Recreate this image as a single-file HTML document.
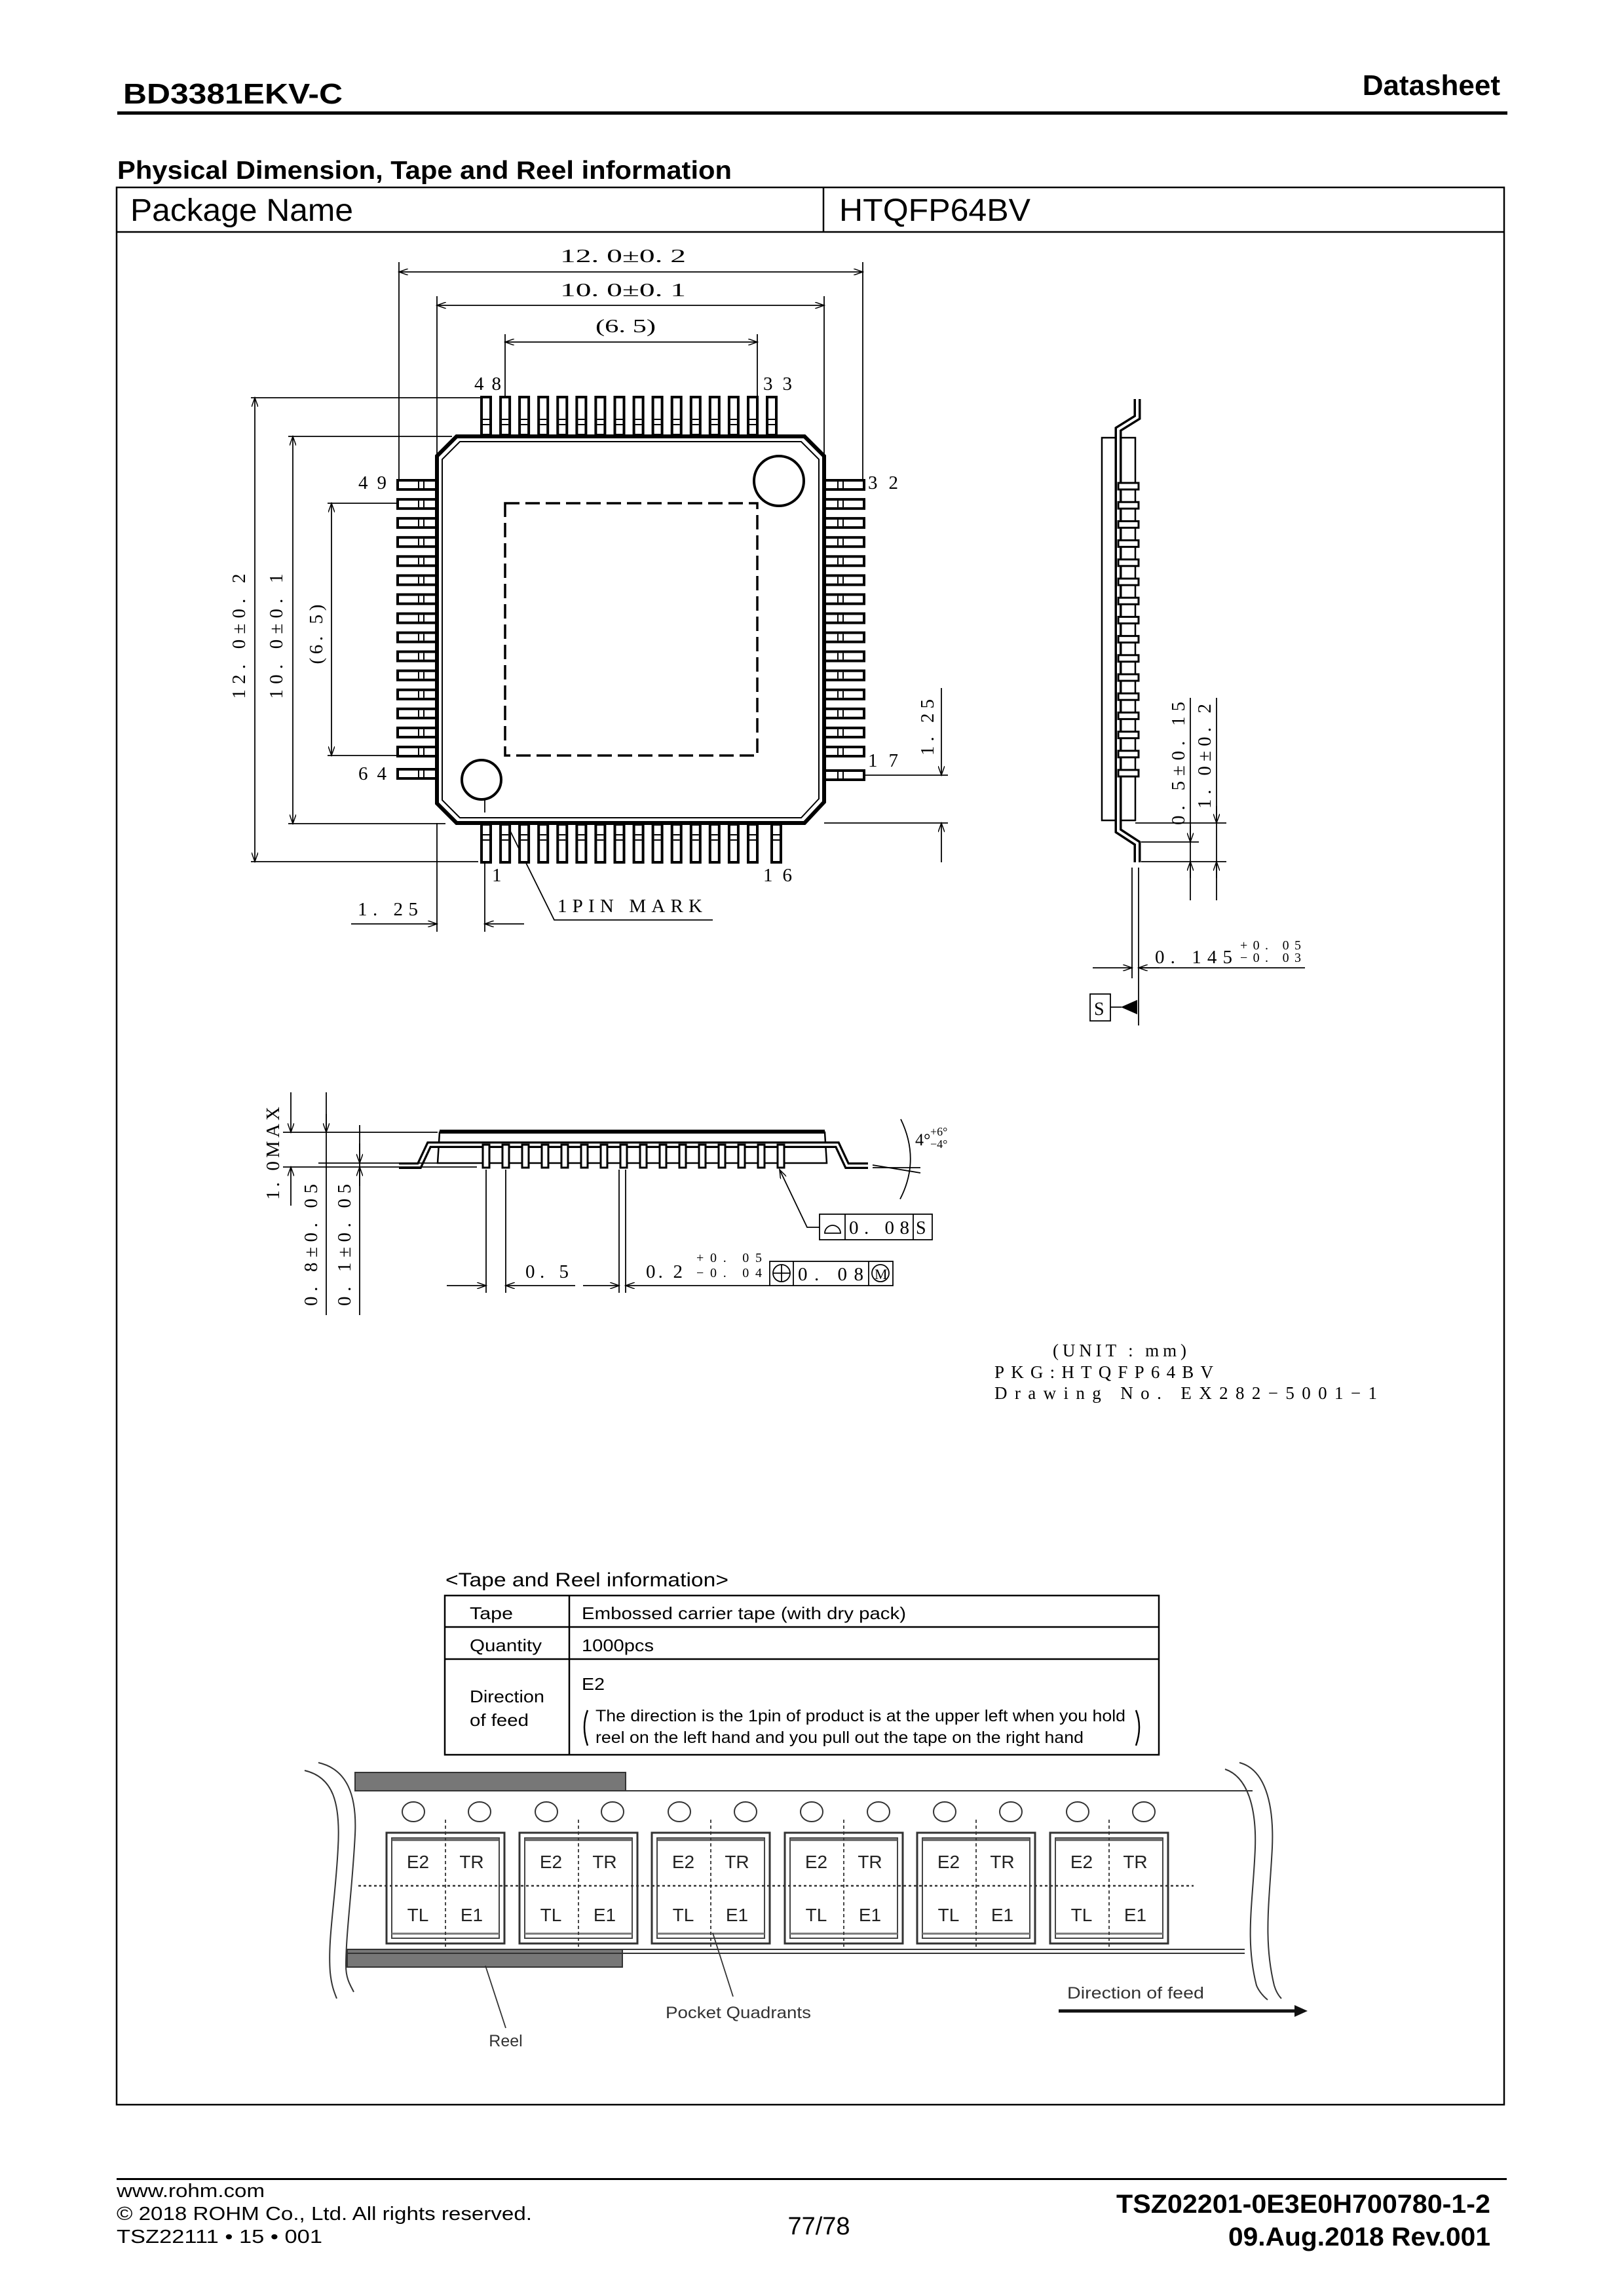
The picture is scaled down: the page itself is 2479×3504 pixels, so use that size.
<!DOCTYPE html>
<html><head><meta charset="utf-8">
<style>
html,body{margin:0;padding:0;background:#fff;}
svg{display:block;}
.s{font-family:"Liberation Sans",Arial,sans-serif;}
.c{font-family:"Liberation Serif","Times New Roman",serif;}
</style></head>
<body>
<svg width="2479" height="3504" viewBox="0 0 2479 3504" xmlns="http://www.w3.org/2000/svg">
<defs>
<marker id="a" markerUnits="userSpaceOnUse" markerWidth="16" markerHeight="10" refX="14" refY="5" orient="auto-start-reverse">
<path d="M0,0 L14,5 L0,10" fill="none" stroke="#000" stroke-width="1.5"/></marker>
<g id="pv"><rect x="-7" y="0" width="14" height="58" fill="#fff" stroke="#000" stroke-width="4"/><line x1="-5" y1="34" x2="5" y2="34" stroke="#000" stroke-width="2"/><line x1="-5" y1="42" x2="5" y2="42" stroke="#000" stroke-width="2"/></g>
<g id="pvb"><rect x="-7" y="0" width="14" height="58" fill="#fff" stroke="#000" stroke-width="4"/><line x1="-5" y1="16" x2="5" y2="16" stroke="#000" stroke-width="2"/><line x1="-5" y1="24" x2="5" y2="24" stroke="#000" stroke-width="2"/></g>
<g id="ph"><rect x="0" y="-7" width="60" height="14" fill="#fff" stroke="#000" stroke-width="4"/><line x1="32" y1="-5" x2="32" y2="5" stroke="#000" stroke-width="2"/><line x1="40" y1="-5" x2="40" y2="5" stroke="#000" stroke-width="2"/></g>
<g id="phr"><rect x="0" y="-7" width="60" height="14" fill="#fff" stroke="#000" stroke-width="4"/><line x1="20" y1="-5" x2="20" y2="5" stroke="#000" stroke-width="2"/><line x1="28" y1="-5" x2="28" y2="5" stroke="#000" stroke-width="2"/></g>
<g id="ps"><rect x="1707" y="-5" width="31" height="10" fill="#fff" stroke="#000" stroke-width="3"/></g>
<g id="pl"><rect x="-5" y="0" width="10" height="35" fill="#fff" stroke="#000" stroke-width="3"/></g>
<g id="pk"><rect x="0" y="0" width="180" height="169" fill="#fff" stroke="#333" stroke-width="3"/><rect x="8" y="8" width="164" height="153" fill="none" stroke="#444" stroke-width="2"/><line x1="8" y1="11" x2="172" y2="11" stroke="#555" stroke-width="3"/><line x1="8" y1="154" x2="172" y2="154" stroke="#777" stroke-width="3"/>
<text class="s" x="48" y="54" font-size="28" text-anchor="middle" fill="#222">E2</text><text class="s" x="130" y="54" font-size="28" text-anchor="middle" fill="#222">TR</text>
<text class="s" x="48" y="135" font-size="28" text-anchor="middle" fill="#222">TL</text><text class="s" x="130" y="135" font-size="28" text-anchor="middle" fill="#222">E1</text></g>
</defs>

<!-- header -->
<text class="s" x="188" y="158" font-size="44" font-weight="bold" textLength="335" lengthAdjust="spacingAndGlyphs">BD3381EKV-C</text>
<text class="s" x="2290" y="145" font-size="44" font-weight="bold" text-anchor="end">Datasheet</text>
<rect x="179" y="170" width="2122" height="5" fill="#000"/>
<text class="s" x="179" y="273" font-size="39" font-weight="bold" textLength="938" lengthAdjust="spacingAndGlyphs">Physical Dimension, Tape and Reel information</text>

<!-- frame -->
<rect x="178" y="286" width="2118" height="2926" fill="none" stroke="#000" stroke-width="2.5"/>
<line x1="178" y1="354" x2="2296" y2="354" stroke="#000" stroke-width="2.5"/>
<line x1="1257" y1="286" x2="1257" y2="354" stroke="#000" stroke-width="2.5"/>
<text class="s" x="199" y="337" font-size="48" textLength="340" lengthAdjust="spacingAndGlyphs">Package Name</text>
<text class="s" x="1281" y="337" font-size="48" textLength="292" lengthAdjust="spacingAndGlyphs">HTQFP64BV</text>

<!-- TOP VIEW -->
<g stroke="#000" stroke-width="1.8" fill="none">
<line x1="609" y1="400" x2="609" y2="735"/>
<line x1="1317" y1="400" x2="1317" y2="735"/>
<line x1="667" y1="452" x2="667" y2="696"/>
<line x1="1258" y1="452" x2="1258" y2="696"/>
<line x1="771" y1="510" x2="771" y2="768"/>
<line x1="1156" y1="510" x2="1156" y2="768"/>
<line x1="609" y1="415" x2="1317" y2="415" marker-start="url(#a)" marker-end="url(#a)"/>
<line x1="667" y1="466" x2="1258" y2="466" marker-start="url(#a)" marker-end="url(#a)"/>
<line x1="771" y1="522" x2="1156" y2="522" marker-start="url(#a)" marker-end="url(#a)"/>
<line x1="383" y1="607" x2="735" y2="607"/>
<line x1="383" y1="1315" x2="730" y2="1315"/>
<line x1="440" y1="666" x2="690" y2="666"/>
<line x1="440" y1="1257" x2="680" y2="1257"/>
<line x1="500" y1="768" x2="770" y2="768"/>
<line x1="500" y1="1153" x2="660" y2="1153"/>
<line x1="389" y1="607" x2="389" y2="1315" marker-start="url(#a)" marker-end="url(#a)"/>
<line x1="447" y1="666" x2="447" y2="1257" marker-start="url(#a)" marker-end="url(#a)"/>
<line x1="506" y1="768" x2="506" y2="1153" marker-start="url(#a)" marker-end="url(#a)"/>
<line x1="1240" y1="1183" x2="1447" y2="1183"/>
<line x1="1258" y1="1256" x2="1447" y2="1256"/>
<line x1="1437" y1="1050" x2="1437" y2="1183" marker-end="url(#a)"/>
<line x1="1437" y1="1256" x2="1437" y2="1316" marker-start="url(#a)"/>
<line x1="667" y1="1256" x2="667" y2="1422"/>
<line x1="740" y1="1240" x2="740" y2="1422"/>
<line x1="536" y1="1410" x2="667" y2="1410" marker-end="url(#a)"/>
<line x1="740" y1="1410" x2="800" y2="1410" marker-start="url(#a)"/>
<polyline points="751,1212 846,1404 1088,1404" marker-start="url(#a)"/>
</g>

<g>
<use href="#pv" x="742" y="606"/><use href="#pv" x="771.1" y="606"/><use href="#pv" x="800.1" y="606"/><use href="#pv" x="829.2" y="606"/><use href="#pv" x="858.3" y="606"/><use href="#pv" x="887.4" y="606"/><use href="#pv" x="916.4" y="606"/><use href="#pv" x="945.5" y="606"/><use href="#pv" x="974.6" y="606"/><use href="#pv" x="1003.6" y="606"/><use href="#pv" x="1032.7" y="606"/><use href="#pv" x="1061.8" y="606"/><use href="#pv" x="1090.8" y="606"/><use href="#pv" x="1119.9" y="606"/><use href="#pv" x="1149" y="606"/><use href="#pv" x="1178" y="606"/>
<use href="#pvb" x="742" y="1258"/><use href="#pvb" x="771.1" y="1258"/><use href="#pvb" x="800.1" y="1258"/><use href="#pvb" x="829.2" y="1258"/><use href="#pvb" x="858.3" y="1258"/><use href="#pvb" x="887.4" y="1258"/><use href="#pvb" x="916.4" y="1258"/><use href="#pvb" x="945.5" y="1258"/><use href="#pvb" x="974.6" y="1258"/><use href="#pvb" x="1003.6" y="1258"/><use href="#pvb" x="1032.7" y="1258"/><use href="#pvb" x="1061.8" y="1258"/><use href="#pvb" x="1090.8" y="1258"/><use href="#pvb" x="1119.9" y="1258"/><use href="#pvb" x="1149" y="1258"/><use href="#pvb" x="1185" y="1258"/>
<use href="#ph" x="607" y="740"/><use href="#ph" x="607" y="769.1"/><use href="#ph" x="607" y="798.1"/><use href="#ph" x="607" y="827.2"/><use href="#ph" x="607" y="856.3"/><use href="#ph" x="607" y="885.4"/><use href="#ph" x="607" y="914.4"/><use href="#ph" x="607" y="943.5"/><use href="#ph" x="607" y="972.6"/><use href="#ph" x="607" y="1001.6"/><use href="#ph" x="607" y="1030.7"/><use href="#ph" x="607" y="1059.8"/><use href="#ph" x="607" y="1088.8"/><use href="#ph" x="607" y="1117.9"/><use href="#ph" x="607" y="1147"/><use href="#ph" x="607" y="1181"/>
<use href="#phr" x="1259" y="740"/><use href="#phr" x="1259" y="769.1"/><use href="#phr" x="1259" y="798.1"/><use href="#phr" x="1259" y="827.2"/><use href="#phr" x="1259" y="856.3"/><use href="#phr" x="1259" y="885.4"/><use href="#phr" x="1259" y="914.4"/><use href="#phr" x="1259" y="943.5"/><use href="#phr" x="1259" y="972.6"/><use href="#phr" x="1259" y="1001.6"/><use href="#phr" x="1259" y="1030.7"/><use href="#phr" x="1259" y="1059.8"/><use href="#phr" x="1259" y="1088.8"/><use href="#phr" x="1259" y="1117.9"/><use href="#phr" x="1259" y="1147"/><use href="#phr" x="1259" y="1183"/>
</g>
<polygon points="697,666 1228,666 1258,696 1258,1224 1228,1256 697,1256 667,1226 667,696" fill="#fff" stroke="#000" stroke-width="6"/>
<polygon points="702,674 1223,674 1250,701 1250,1219 1223,1248 702,1248 675,1221 675,701" fill="none" stroke="#000" stroke-width="2"/>
<rect x="771" y="768" width="385" height="385" fill="none" stroke="#000" stroke-width="3.5" stroke-dasharray="22,9"/>
<circle cx="1189" cy="734" r="38" fill="#fff" stroke="#000" stroke-width="4"/>
<circle cx="735" cy="1190" r="30" fill="#fff" stroke="#000" stroke-width="4"/>
<line x1="740" y1="1218" x2="740" y2="1240" stroke="#000" stroke-width="1.8"/>

<g class="c" font-size="29" fill="#000">
<text x="855" y="400" textLength="192" lengthAdjust="spacingAndGlyphs">12. 0±0. 2</text>
<text x="855" y="452" textLength="192" lengthAdjust="spacingAndGlyphs">10. 0±0. 1</text>
<text x="909" y="507" textLength="92" lengthAdjust="spacingAndGlyphs">(6. 5)</text>
<text x="724" y="595" textLength="41" lengthAdjust="spacing">48</text>
<text x="1165" y="595" textLength="44" lengthAdjust="spacing">33</text>
<text x="547" y="746" textLength="43" lengthAdjust="spacing">49</text>
<text x="1325" y="746" textLength="46" lengthAdjust="spacing">32</text>
<text x="547" y="1190" textLength="43" lengthAdjust="spacing">64</text>
<text x="1325" y="1170" textLength="46" lengthAdjust="spacing">17</text>
<text x="751" y="1345">1</text>
<text x="1165" y="1345" textLength="44" lengthAdjust="spacing">16</text>
<text x="546" y="1397" textLength="92" lengthAdjust="spacing">1. 25</text>
<text x="851" y="1392" textLength="221" lengthAdjust="spacing">1PIN MARK</text>
<text transform="translate(374,971) rotate(-90)" text-anchor="middle" textLength="191" lengthAdjust="spacing">12. 0±0. 2</text>
<text transform="translate(431,971) rotate(-90)" text-anchor="middle" textLength="191" lengthAdjust="spacing">10. 0±0. 1</text>
<text transform="translate(492,968) rotate(-90)" text-anchor="middle" textLength="91" lengthAdjust="spacing">(6. 5)</text>
<text transform="translate(1425,1110) rotate(-90)" text-anchor="middle" textLength="86" lengthAdjust="spacing">1. 25</text>
</g>

<!-- SIDE VIEW -->
<rect x="1682" y="668" width="51" height="584" fill="#fff" stroke="#000" stroke-width="2.5"/>
<path d="M1736,609 L1736,637 L1707,655 L1707,1268 L1736,1287 L1736,1316" fill="none" stroke="#000" stroke-width="11"/>
<path d="M1736,609 L1736,637 L1707,655 L1707,1268 L1736,1287 L1736,1316" fill="none" stroke="#fff" stroke-width="4"/>
<g>
<use href="#ps" y="742"/><use href="#ps" y="771.2"/><use href="#ps" y="800.4"/><use href="#ps" y="829.6"/><use href="#ps" y="858.8"/><use href="#ps" y="888"/><use href="#ps" y="917.2"/><use href="#ps" y="946.4"/><use href="#ps" y="975.6"/><use href="#ps" y="1004.8"/><use href="#ps" y="1034"/><use href="#ps" y="1063.2"/><use href="#ps" y="1092.4"/><use href="#ps" y="1121.6"/><use href="#ps" y="1150.8"/><use href="#ps" y="1180"/>
</g>
<g stroke="#000" stroke-width="1.8" fill="none">
<line x1="1733" y1="1256" x2="1872" y2="1256"/>
<line x1="1742" y1="1285" x2="1830" y2="1285"/>
<line x1="1742" y1="1315" x2="1872" y2="1315"/>
<line x1="1817" y1="1065" x2="1817" y2="1374"/>
<line x1="1857" y1="1065" x2="1857" y2="1374"/>
<line x1="1817" y1="1260" x2="1817" y2="1285" marker-end="url(#a)"/>
<line x1="1817" y1="1340" x2="1817" y2="1315" marker-end="url(#a)"/>
<line x1="1857" y1="1230" x2="1857" y2="1256" marker-end="url(#a)"/>
<line x1="1857" y1="1340" x2="1857" y2="1315" marker-end="url(#a)"/>
<line x1="1728" y1="1324" x2="1728" y2="1493"/>
<line x1="1738" y1="1324" x2="1738" y2="1565"/>
<line x1="1668" y1="1477" x2="1728" y2="1477" marker-end="url(#a)"/>
<line x1="1770" y1="1477" x2="1738" y2="1477" marker-end="url(#a)"/>
<line x1="1738" y1="1477" x2="1992" y2="1477"/>
<rect x="1664" y="1517" width="31" height="41"/>
<line x1="1695" y1="1537" x2="1712" y2="1537"/>
</g>
<polygon points="1711,1537 1736,1526 1736,1548" fill="#000"/>
<g class="c" fill="#000">
<text x="1670" y="1549" font-size="28">S</text>
<text transform="translate(1808,1165) rotate(-90)" text-anchor="middle" font-size="29" textLength="188" lengthAdjust="spacing">0. 5±0. 15</text>
<text transform="translate(1848,1154) rotate(-90)" text-anchor="middle" font-size="29" textLength="160" lengthAdjust="spacing">1. 0±0. 2</text>
<text x="1763" y="1470" font-size="29" textLength="118" lengthAdjust="spacing">0. 145</text>
<text x="1893" y="1449" font-size="20" textLength="93" lengthAdjust="spacing">+0. 05</text>
<text x="1893" y="1468" font-size="20" textLength="93" lengthAdjust="spacing">−0. 03</text>
</g>

<!-- FRONT VIEW -->
<polygon points="671,1728 1259,1728 1262,1775 668,1775" fill="#fff" stroke="#000" stroke-width="2.5"/>
<line x1="671" y1="1727" x2="1259" y2="1727" stroke="#000" stroke-width="6"/>
<path d="M609,1779 L640,1779 L655,1747 L1278,1747 L1293,1779 L1325,1779" fill="none" stroke="#000" stroke-width="10"/>
<path d="M609,1779 L640,1779 L655,1747 L1278,1747 L1293,1779 L1325,1779" fill="none" stroke="#fff" stroke-width="3.5"/>
<g>
<use href="#pl" x="742" y="1747"/><use href="#pl" x="772" y="1747"/><use href="#pl" x="802" y="1747"/><use href="#pl" x="832" y="1747"/><use href="#pl" x="862" y="1747"/><use href="#pl" x="892" y="1747"/><use href="#pl" x="922" y="1747"/><use href="#pl" x="952" y="1747"/><use href="#pl" x="982" y="1747"/><use href="#pl" x="1012" y="1747"/><use href="#pl" x="1042" y="1747"/><use href="#pl" x="1072" y="1747"/><use href="#pl" x="1102" y="1747"/><use href="#pl" x="1132" y="1747"/><use href="#pl" x="1162" y="1747"/><use href="#pl" x="1192" y="1747"/>
</g>
<g stroke="#000" stroke-width="1.8" fill="none">
<line x1="432" y1="1728" x2="668" y2="1728"/>
<line x1="486" y1="1775" x2="668" y2="1775"/>
<line x1="432" y1="1781" x2="728" y2="1781"/>
<line x1="444" y1="1667" x2="444" y2="1728" marker-end="url(#a)"/>
<line x1="444" y1="1840" x2="444" y2="1781" marker-end="url(#a)"/>
<line x1="498" y1="1667" x2="498" y2="2007"/>
<line x1="498" y1="1700" x2="498" y2="1728" marker-end="url(#a)"/>
<line x1="549" y1="1717" x2="549" y2="2007"/>
<line x1="549" y1="1745" x2="549" y2="1775" marker-end="url(#a)"/>
<line x1="549" y1="1810" x2="549" y2="1781" marker-end="url(#a)"/>
<line x1="742" y1="1785" x2="742" y2="1973"/>
<line x1="772" y1="1785" x2="772" y2="1973"/>
<line x1="945" y1="1785" x2="945" y2="1973"/>
<line x1="955" y1="1785" x2="955" y2="1973"/>
<line x1="682" y1="1962" x2="742" y2="1962" marker-end="url(#a)"/>
<line x1="878" y1="1962" x2="772" y2="1962" marker-end="url(#a)"/>
<line x1="890" y1="1962" x2="945" y2="1962" marker-end="url(#a)"/>
<line x1="1175" y1="1962" x2="955" y2="1962" marker-end="url(#a)"/>
<rect x="1175" y="1925" width="188" height="37"/>
<line x1="1211" y1="1925" x2="1211" y2="1962"/>
<line x1="1326" y1="1925" x2="1326" y2="1962"/>
<circle cx="1193" cy="1943" r="13"/><line x1="1180" y1="1943" x2="1206" y2="1943"/><line x1="1193" y1="1930" x2="1193" y2="1956"/>
<circle cx="1344" cy="1943" r="13"/>
<rect x="1251" y="1853" width="172" height="39"/>
<line x1="1290" y1="1853" x2="1290" y2="1892"/>
<line x1="1394" y1="1853" x2="1394" y2="1892"/>
<path d="M1259,1882 A12,12 0 0 1 1283,1882 Z"/>
<polyline points="1251,1873 1232,1873 1190,1785" marker-end="url(#a)"/>
<path d="M1375,1708 Q1405,1770 1374,1830"/>
<line x1="1332" y1="1782" x2="1405" y2="1782"/>
<line x1="1332" y1="1778" x2="1405" y2="1790"/>
</g>
<g class="c" fill="#000">
<text transform="translate(426,1760) rotate(-90)" text-anchor="middle" font-size="29" textLength="142" lengthAdjust="spacing">1. 0MAX</text>
<text transform="translate(484,1900) rotate(-90)" text-anchor="middle" font-size="29" textLength="186" lengthAdjust="spacing">0. 8±0. 05</text>
<text transform="translate(535,1900) rotate(-90)" text-anchor="middle" font-size="29" textLength="186" lengthAdjust="spacing">0. 1±0. 05</text>
<text x="802" y="1950" font-size="29" textLength="66" lengthAdjust="spacing">0. 5</text>
<text x="986" y="1950" font-size="29" textLength="56" lengthAdjust="spacing">0. 2</text>
<text x="1063" y="1926" font-size="20" textLength="100" lengthAdjust="spacing">+0. 05</text>
<text x="1063" y="1949" font-size="20" textLength="100" lengthAdjust="spacing">−0. 04</text>
<text x="1218" y="1954" font-size="29" textLength="100" lengthAdjust="spacing">0. 08</text>
<text x="1335" y="1952" font-size="22">M</text>
<text x="1296" y="1883" font-size="29" textLength="92" lengthAdjust="spacing">0. 08</text>
<text x="1398" y="1883" font-size="28">S</text>
<text x="1397" y="1748" font-size="26">4°</text>
<text x="1420" y="1733" font-size="18">+6°</text>
<text x="1420" y="1752" font-size="18">−4°</text>
<text x="1607" y="2070" font-size="27" textLength="204" lengthAdjust="spacing">(UNIT : mm)</text>
<text x="1518" y="2103" font-size="27" textLength="334" lengthAdjust="spacing">PKG:HTQFP64BV</text>
<text x="1518" y="2135" font-size="27" textLength="584" lengthAdjust="spacing">Drawing  No. EX282−5001−1</text>
</g>

<!-- TAPE AND REEL TABLE -->
<text class="s" x="680" y="2421" font-size="30" textLength="432" lengthAdjust="spacingAndGlyphs">&lt;Tape and Reel information&gt;</text>
<g stroke="#000" stroke-width="2.5" fill="none">
<rect x="679" y="2435" width="1090" height="243"/>
<line x1="869" y1="2435" x2="869" y2="2678"/>
<line x1="679" y1="2483" x2="1769" y2="2483"/>
<line x1="679" y1="2532" x2="1769" y2="2532"/>
</g>
<g class="s" font-size="26" fill="#000">
<text x="717" y="2471" textLength="66" lengthAdjust="spacingAndGlyphs">Tape</text>
<text x="717" y="2520" textLength="110" lengthAdjust="spacingAndGlyphs">Quantity</text>
<text x="888" y="2471" textLength="495" lengthAdjust="spacingAndGlyphs">Embossed carrier tape (with dry pack)</text>
<text x="888" y="2520" textLength="110" lengthAdjust="spacingAndGlyphs">1000pcs</text>
<text x="888" y="2579" textLength="35" lengthAdjust="spacingAndGlyphs">E2</text>
<text x="717" y="2598" textLength="114" lengthAdjust="spacingAndGlyphs">Direction</text>
<text x="717" y="2634" textLength="90" lengthAdjust="spacingAndGlyphs">of feed</text>
<text x="909" y="2627" font-size="25" textLength="809" lengthAdjust="spacingAndGlyphs">The direction is the 1pin of product is at the upper left when you hold</text>
<text x="909" y="2660" font-size="25" textLength="745" lengthAdjust="spacingAndGlyphs">reel on the left hand and you pull out the tape on the right hand</text>
</g>
<path d="M897,2610 Q887,2635 897,2664" fill="none" stroke="#000" stroke-width="2.5"/>
<path d="M1734,2610 Q1744,2635 1734,2664" fill="none" stroke="#000" stroke-width="2.5"/>

<!-- TAPE DRAWING -->
<rect x="542" y="2705" width="413" height="28" fill="#777" stroke="#333" stroke-width="2"/>
<rect x="530" y="2975" width="420" height="27" fill="#777" stroke="#333" stroke-width="2"/>
<g stroke="#333" stroke-width="2" fill="none">
<line x1="542" y1="2733" x2="1912" y2="2733"/>
<line x1="530" y1="2975" x2="1900" y2="2975"/>
<line x1="530" y1="2981" x2="1900" y2="2981"/>
<path d="M486,2690 C530,2700 545,2740 542,2800 C538,2880 528,2950 528,3000 C528,3020 535,3030 540,3040"/>
<path d="M465,2702 C508,2712 520,2750 516,2820 C512,2900 500,2960 504,3010 C506,3030 510,3040 514,3050"/>
<path d="M1870,2700 C1905,2712 1918,2760 1916,2820 C1913,2900 1900,2960 1918,3030 C1922,3040 1930,3048 1935,3052"/>
<path d="M1892,2690 C1930,2700 1945,2750 1942,2820 C1938,2900 1928,2960 1945,3030 C1948,3040 1952,3046 1956,3050"/>
<ellipse cx="631" cy="2765" rx="17" ry="15"/><ellipse cx="732" cy="2765" rx="17" ry="15"/>
<ellipse cx="834" cy="2765" rx="17" ry="15"/><ellipse cx="935" cy="2765" rx="17" ry="15"/>
<ellipse cx="1037" cy="2765" rx="17" ry="15"/><ellipse cx="1138" cy="2765" rx="17" ry="15"/>
<ellipse cx="1239" cy="2765" rx="17" ry="15"/><ellipse cx="1341" cy="2765" rx="17" ry="15"/>
<ellipse cx="1442" cy="2765" rx="17" ry="15"/><ellipse cx="1543" cy="2765" rx="17" ry="15"/>
<ellipse cx="1645" cy="2765" rx="17" ry="15"/><ellipse cx="1746" cy="2765" rx="17" ry="15"/>
</g>
<use href="#pk" x="590" y="2797"/><use href="#pk" x="793" y="2797"/><use href="#pk" x="995" y="2797"/>
<use href="#pk" x="1198" y="2797"/><use href="#pk" x="1400" y="2797"/><use href="#pk" x="1603" y="2797"/>
<g stroke="#333" stroke-width="1.8" stroke-dasharray="5,4" fill="none">
<line x1="680" y1="2777" x2="680" y2="2975"/><line x1="883" y1="2777" x2="883" y2="2975"/>
<line x1="1085" y1="2777" x2="1085" y2="2975"/><line x1="1288" y1="2777" x2="1288" y2="2975"/>
<line x1="1490" y1="2777" x2="1490" y2="2975"/><line x1="1693" y1="2777" x2="1693" y2="2975"/>
</g>
<line x1="547" y1="2878" x2="1822" y2="2878" stroke="#333" stroke-width="2.5" stroke-dasharray="4,4"/>
<g stroke="#333" stroke-width="1.8" fill="none">
<line x1="741" y1="3000" x2="772" y2="3095"/>
<line x1="1088" y1="2950" x2="1119" y2="3047"/>
</g>
<g class="s" fill="#333" font-size="25">
<text x="772" y="3123" text-anchor="middle">Reel</text>
<text x="1127" y="3080" text-anchor="middle" textLength="222" lengthAdjust="spacingAndGlyphs">Pocket Quadrants</text>
<text x="1629" y="3050" textLength="209" lengthAdjust="spacingAndGlyphs">Direction of feed</text>
</g>
<line x1="1616" y1="3069" x2="1980" y2="3069" stroke="#111" stroke-width="5"/>
<polygon points="1976,3060 1996,3069 1976,3078" fill="#111"/>

<!-- FOOTER -->
<rect x="178" y="3324" width="2122" height="3" fill="#000"/>
<g class="s" fill="#000" font-size="29">
<text x="178" y="3353" textLength="226" lengthAdjust="spacingAndGlyphs">www.rohm.com</text>
<text x="178" y="3388" textLength="634" lengthAdjust="spacingAndGlyphs">© 2018 ROHM Co., Ltd. All rights reserved.</text>
<text x="178" y="3423" textLength="314" lengthAdjust="spacingAndGlyphs">TSZ22111 •  15 •  001</text>
<text x="1250" y="3410" font-size="38" text-anchor="middle">77/78</text>
<text x="2275" y="3377" font-size="40" font-weight="bold" text-anchor="end" textLength="571" lengthAdjust="spacingAndGlyphs">TSZ02201-0E3E0H700780-1-2</text>
<text x="2275" y="3427" font-size="40" font-weight="bold" text-anchor="end" textLength="400" lengthAdjust="spacingAndGlyphs">09.Aug.2018 Rev.001</text>
</g>
</svg>
</body></html>
